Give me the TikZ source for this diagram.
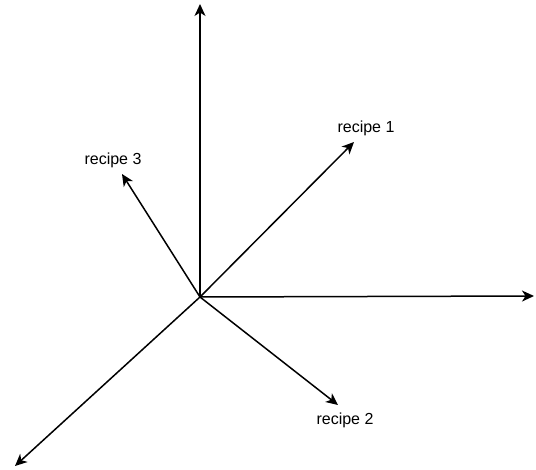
\documentclass[tikz,border=0pt]{standalone}
\usepackage{fontspec}
\setmainfont{Liberation Sans}
\usetikzlibrary{arrows.meta}
\begin{document}
\begin{tikzpicture}[x=1bp,y=-1bp,
  vec/.style={line width=1.5bp,-{Stealth[length=12bp,width=11bp,inset=3.5bp]}},
  lbl/.style={font=\fontsize{16bp}{18bp}\selectfont,inner sep=0pt}]
\useasboundingbox (0,0) rectangle (536,470);
\coordinate (O) at (200,297);
\coordinate (up) at (200,4);
\coordinate (right) at (534,296);
\coordinate (dl) at (15,466);
\coordinate (r1) at (354,142);
\coordinate (r3) at (122,174);
\coordinate (r2) at (338,405);
\draw[vec] (O) -- (up);
\draw[vec] (O) -- (right);
\draw[vec] (O) -- (dl);
\draw[vec] (O) -- (r1);
\draw[vec] (O) -- (r3);
\draw[vec] (O) -- (r2);
\node[lbl] (l1) at (366,128) {recipe 1};
\node[lbl] (l3) at (113,160) {recipe 3};
\node[lbl] (l2) at (345,420) {recipe 2};
\end{tikzpicture}
\end{document}
